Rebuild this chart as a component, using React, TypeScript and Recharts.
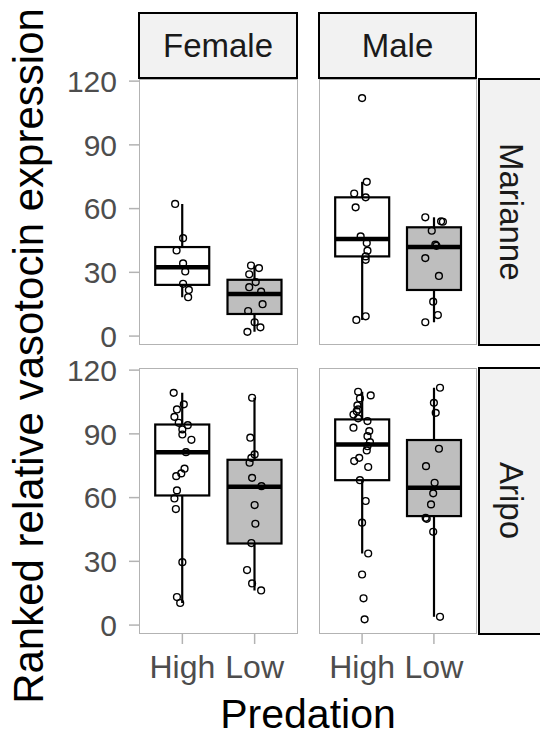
import { Bar, ComposedChart, Scatter, XAxis, YAxis } from 'recharts';

const PREDATION = ['High', 'Low'];
const SEXES = ['Female', 'Male'];
const RIVERS = ['Marianne', 'Aripo'];

const Y_TICKS = [0, 30, 60, 90, 120];

// box stats per predation level: [lower whisker, q1, median, q3, upper whisker]
const femaleMarianneBox = [
  [18.3, 24.1, 32.4, 41.9, 62.2],
  [2.0, 10.4, 19.8, 26.5, 33.2],
];
const maleMarianneBox = [
  [7.6, 37.5, 45.7, 65.3, 72.6],
  [6.5, 21.7, 41.9, 51.2, 55.9],
];
const femaleAripoBox = [
  [10.4, 61.0, 81.4, 94.4, 109.3],
  [16.3, 38.4, 65.1, 77.8, 107.0],
];
const maleAripoBox = [
  [33.7, 68.2, 85.0, 96.8, 109.8],
  [3.9, 51.3, 64.6, 87.1, 111.7],
];

// individual fish (value + horizontal jitter in category units)
const femaleMarianneHigh = [62.2, 46.1, 40.3, 34.2, 30.4, 24.6, 21.7, 18.3];
const femaleMarianneHighJit = [-0.1, 0.01, -0.08, 0.01, 0.04, 0.01, 0.09, 0.08];
const femaleMarianneLow = [33.2, 32.0, 29.1, 25.4, 23.0, 20.9, 15.0, 11.8, 6.5, 4.1, 2.0];
const femaleMarianneLowJit = [-0.05, 0.06, -0.075, 0.015, -0.075, 0.09, 0.11, -0.09, 0, 0.08, -0.1];

const maleMarianneHigh = [112, 72.6, 67.1, 65.3, 60.6, 46.9, 43.8, 40.2, 37.5, 35.9, 9.3, 7.6];
const maleMarianneHighJit = [0, 0.065, -0.11, 0.05, -0.09, -0.02, 0.065, 0.075, 0.05, 0.05, 0.05, -0.08];
const maleMarianneLow = [55.9, 54.0, 53.8, 49.6, 43.0, 42.5, 36.7, 28.3, 16.2, 9.9, 6.5];
const maleMarianneLowJit = [-0.12, 0.1, 0.125, -0.03, 0.02, 0.035, -0.12, 0.07, -0.01, 0.055, -0.12];

const femaleAripoHigh = [
  109.3, 103.9, 101.5, 98.0, 95.2, 94.1, 92.1, 89.7, 87.2, 81.4, 73.6, 71.4, 70.1, 63.4, 59.6,
  54.6, 29.6, 13.2, 10.4,
];
const femaleAripoHighJit = [
  -0.12, 0.02, -0.075, -0.11, -0.05, 0.075, 0, 0, 0.125, 0.05, 0.03, -0.015, -0.085, -0.075,
  -0.11, -0.09, 0, -0.075, -0.03,
];
const femaleAripoLow = [107.0, 88.2, 80.3, 78.7, 76.4, 69.3, 65.4, 56.5, 47.7, 38.6, 25.9, 19.6, 16.3];
const femaleAripoLowJit = [-0.035, -0.06, 0, -0.045, -0.07, -0.035, 0.095, 0, 0.01, -0.045, -0.105, -0.035, 0.09];

const maleAripoHigh = [
  109.8, 108.1, 106.7, 103.4, 101.5, 100.7, 99.1, 97.3, 96.0, 92.9, 91.3, 88.9, 86.1, 84.2, 82.2,
  78.7, 77.2, 74.4, 68.2, 58.4, 48.2, 33.7, 23.8, 12.6, 2.7,
];
const maleAripoHighJit = [
  -0.055, 0.12, -0.03, -0.065, -0.055, -0.075, -0.12, -0.055, 0.075, -0.12, 0.1, 0.075, 0.11,
  0.075, 0.065, -0.04, -0.11, 0.085, -0.03, 0.05, 0, 0.085, 0, 0.02, 0.035,
];
const maleAripoLow = [111.7, 104.6, 99.9, 83.0, 74.8, 67.0, 62.0, 56.8, 50.5, 50.0, 43.9, 3.9];
const maleAripoLowJit = [0.085, 0, 0.025, 0.07, -0.11, 0.01, -0.01, -0.04, -0.115, -0.1, -0.01, 0.085];

const FONT = '"Liberation Sans", Arial, Helvetica, sans-serif';
const BOX_FILLS = ['#ffffff', '#bebebe'];
const GRID_GREY = '#b3b3b3';
const EDGE = 24; // room above/below each plot so tick labels are not clipped

function BoxShape(props: any) {
  const { x, y, width, height, payload } = props;
  const [lo, q1, med, q3, hi] = payload.stats;
  const top = Math.min(y, y + height);
  const h = Math.abs(height);
  const k = h / (q3 - q1);
  const cx = x + width / 2;
  const yMed = top + (q3 - med) * k;
  const yHi = top - (hi - q3) * k;
  const yLo = top + h + (q1 - lo) * k;
  return (
    <g>
      <line x1={cx} x2={cx} y1={yHi} y2={top} stroke="#000" strokeWidth={2.2} />
      <line x1={cx} x2={cx} y1={top + h} y2={yLo} stroke="#000" strokeWidth={2.2} />
      <rect x={x} y={top} width={width} height={h} fill={payload.fill} stroke="#000" strokeWidth={2.2} />
      <line x1={x} x2={x + width} y1={yMed} y2={yMed} stroke="#000" strokeWidth={4.5} />
    </g>
  );
}

function Dot(props: any) {
  return <circle cx={props.cx} cy={props.cy} r={3.4} fill="none" stroke="#000" strokeWidth={1.4} />;
}

interface PanelProps {
  left: number;
  top: number;
  width: number;
  height: number;
  boxes: number[][];
  high: number[];
  highJit: number[];
  low: number[];
  lowJit: number[];
  showY: boolean;
  showX: boolean;
}

function Panel({ left, top, width, height, boxes, high, highJit, low, lowJit, showY, showX }: PanelProps) {
  const boxData = PREDATION.map((pred, i) => ({
    pred,
    box: [boxes[i][1], boxes[i][3]],
    stats: boxes[i],
    fill: BOX_FILLS[i],
  }));
  const points = [
    ...high.map((v, j) => ({ x: 1 + highJit[j], y: v })),
    ...low.map((v, j) => ({ x: 2 + lowJit[j], y: v })),
  ];
  const pad = width / 22;
  const axisW = showY ? left : 0;
  const xAxisH = showX ? 60 : 0;

  return (
    <>
      <div
        style={{
          position: 'absolute',
          left,
          top,
          width,
          height,
          border: `1.5px solid ${GRID_GREY}`,
          boxSizing: 'border-box',
        }}
      />
      <div style={{ position: 'absolute', left: left - axisW, top: top - EDGE }}>
        <ComposedChart
          width={width + axisW}
          height={height + xAxisH + 2 * EDGE}
          data={boxData}
          margin={{ top: EDGE, right: 0, bottom: EDGE, left: 0 }}
        >
          <XAxis
            xAxisId="num"
            dataKey="x"
            type="number"
            domain={[0.4, 2.6]}
            ticks={[1, 2]}
            interval={0}
            allowDataOverflow
            hide={!showX}
            height={xAxisH}
            axisLine={false}
            tickLine={{ stroke: GRID_GREY, strokeWidth: 1.5 }}
            tickSize={10}
            tickMargin={11}
            tickFormatter={(v: number) => PREDATION[Math.round(v) - 1]}
            tick={{ fontSize: 32, fill: '#4d4d4d', fontFamily: FONT }}
          />
          <XAxis
            xAxisId="cat"
            dataKey="pred"
            type="category"
            hide
            height={0}
            padding={{ left: pad, right: pad }}
          />
          <YAxis
            type="number"
            domain={[-4.2, 121]}
            ticks={Y_TICKS}
            interval={0}
            allowDataOverflow
            hide={!showY}
            width={axisW}
            axisLine={false}
            tickLine={{ stroke: GRID_GREY, strokeWidth: 1.5 }}
            tickSize={10}
            tickMargin={12}
            tick={{ fontSize: 30, fill: '#4d4d4d', fontFamily: FONT }}
          />
          <Bar
            xAxisId="cat"
            dataKey="box"
            barSize={54}
            shape={(p: any) => <BoxShape {...p} />}
            isAnimationActive={false}
          />
          <Scatter
            xAxisId="num"
            data={points}
            dataKey="y"
            shape={(p: any) => <Dot {...p} />}
            isAnimationActive={false}
          />
        </ComposedChart>
      </div>
    </>
  );
}

const stripStyle = {
  position: 'absolute' as const,
  background: '#f2f2f2',
  border: '2px solid #000',
  boxSizing: 'border-box' as const,
  display: 'flex',
  alignItems: 'center',
  justifyContent: 'center',
  fontSize: 33,
  color: '#1a1a1a',
};

export default function App() {
  const cols = [
    { left: 139, width: 159 },
    { left: 319, width: 158 },
  ];
  const rows = [
    { top: 79, height: 266 },
    { top: 368, height: 266 },
  ];
  const panelData = [
    [
      [femaleMarianneBox, femaleMarianneHigh, femaleMarianneHighJit, femaleMarianneLow, femaleMarianneLowJit],
      [maleMarianneBox, maleMarianneHigh, maleMarianneHighJit, maleMarianneLow, maleMarianneLowJit],
    ],
    [
      [femaleAripoBox, femaleAripoHigh, femaleAripoHighJit, femaleAripoLow, femaleAripoLowJit],
      [maleAripoBox, maleAripoHigh, maleAripoHighJit, maleAripoLow, maleAripoLowJit],
    ],
  ];

  return (
    <div
      style={{
        position: 'absolute',
        left: 0,
        top: 0,
        width: 540,
        height: 736,
        overflow: 'hidden',
        background: '#fff',
        fontFamily: FONT,
      }}
    >
      {rows.map((row, r) =>
        cols.map((col, c) => {
          const [boxes, high, highJit, low, lowJit] = panelData[r][c] as any;
          return (
            <Panel
              key={`${r}-${c}`}
              left={col.left}
              top={row.top}
              width={col.width}
              height={row.height}
              boxes={boxes}
              high={high}
              highJit={highJit}
              low={low}
              lowJit={lowJit}
              showY={c === 0}
              showX={r === 1}
            />
          );
        }),
      )}

      {SEXES.map((sex, c) => (
        <div
          key={sex}
          style={{ ...stripStyle, left: cols[c].left - 1, top: 12, width: cols[c].width + 1, height: 67 }}
        >
          {sex}
        </div>
      ))}

      {RIVERS.map((river, r) => (
        <div
          key={river}
          style={{
            ...stripStyle,
            left: 478,
            top: rows[r].top - 1,
            width: 66,
            height: rows[r].height + 2,
          }}
        >
          <span style={{ writingMode: 'vertical-rl' }}>{river}</span>
        </div>
      ))}

      <svg width={540} height={736} style={{ position: 'absolute', left: 0, top: 0, pointerEvents: 'none' }}>
        <text
          transform="translate(43,356) rotate(-90)"
          textAnchor="middle"
          fontSize={42}
          fontFamily={FONT}
          fill="#000"
        >
          Ranked relative vasotocin expression
        </text>
        <text x={308} y={728} textAnchor="middle" fontSize={41} fontFamily={FONT} fill="#000">
          Predation
        </text>
      </svg>
    </div>
  );
}
